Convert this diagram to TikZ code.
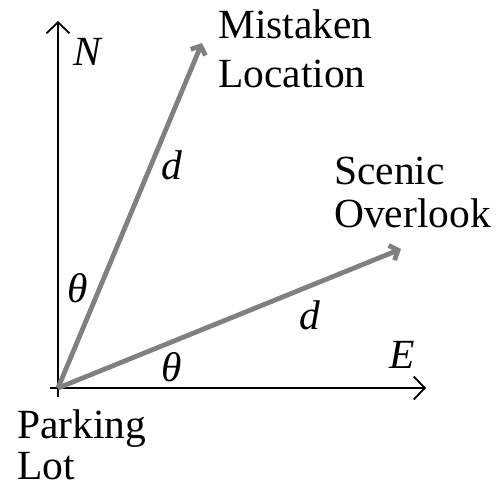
\documentclass[tikz,border=0pt]{standalone}
\usepackage{fontspec}
\setmainfont{Liberation Serif}
\usetikzlibrary{positioning, arrows.meta}

\begin{document}
\begin{tikzpicture}[x=1pt, y=-1pt,
  axis/.style={line width=1.8pt, -{Straight Barb[length=11pt,width=23pt,line width=1.8pt]}},
  vec/.style={line width=4.8pt, draw=gray, -{Straight Barb[length=7pt,width=16pt]}},
  place/.style={font=\fontsize{41.5}{#1}\selectfont, align=left, inner sep=0pt},
  sym/.style={font=\fontsize{41.5}{48}\selectfont\itshape, inner sep=0pt, anchor=base west}
]
\useasboundingbox (0,0) rectangle (501,485);

\coordinate (lot) at (58,388);
\coordinate (nstart) at (58,397);
\coordinate (north) at (58,21);
\coordinate (estart) at (50,388);
\coordinate (east) at (426,388);
\coordinate (mistaken) at (202,43);
\coordinate (scenic) at (401,249);

% axes
\draw[axis] (nstart) -- (north);
\draw[axis] (estart) -- (east);

% the two vectors
\draw[vec] (lot) -- (mistaken);
\draw[vec] (lot) -- (scenic);

\node[sym] (nlab) at (73,65) {N};
\node[sym] (elab) at (389,368) {E};
\node[sym] (dup) at (161,179) {d};
\node[sym] (dlow) at (299,329) {d};
\node[sym] (thup) at (67,302) {θ};
\node[sym] (thlow) at (161,381) {θ};

\node[place=49, anchor=north west] (mloc) at (218,9.5) {Mistaken\\Location};
\node[place=43, anchor=north west] (sover) at (334,156.5) {Scenic\\Overlook};
\node[place=41, anchor=north west] (plot) at (17,409.5) {Parking\\Lot};
\end{tikzpicture}
\end{document}
